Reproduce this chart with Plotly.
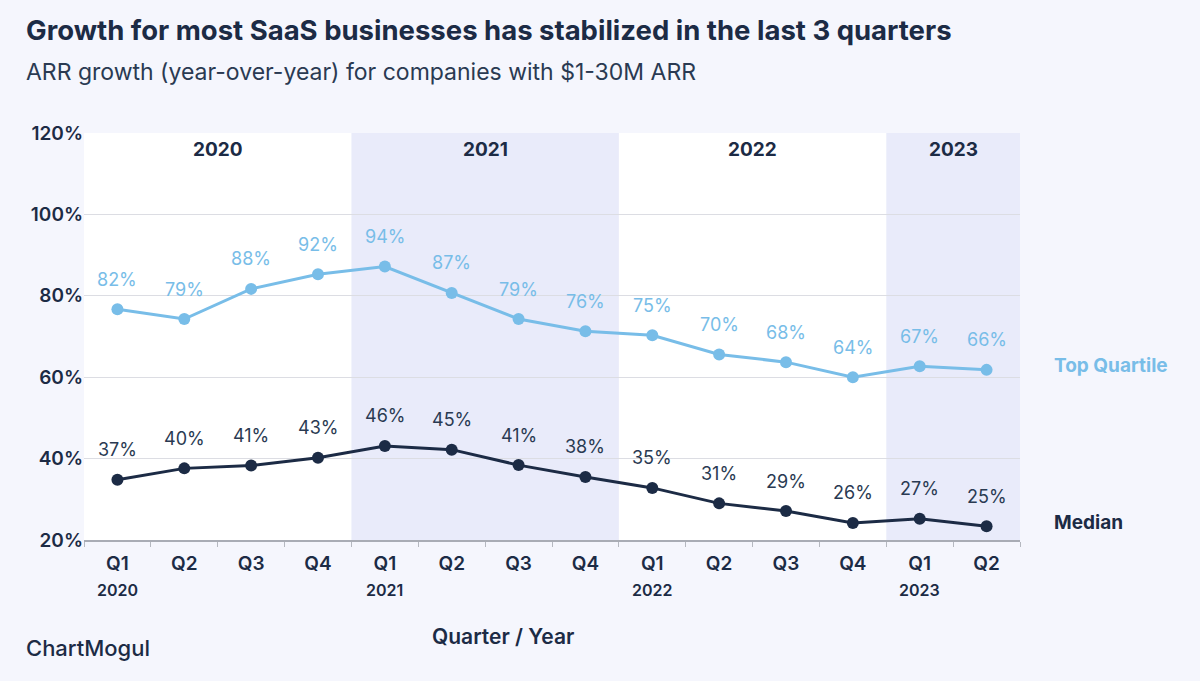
import plotly.graph_objects as go

# ---- data ----
quarters = ["Q1", "Q2", "Q3", "Q4", "Q1", "Q2", "Q3", "Q4", "Q1", "Q2", "Q3", "Q4", "Q1", "Q2"]
years = ["2020", "", "", "", "2021", "", "", "", "2022", "", "", "", "2023", ""]
categories = [f"{q} {2020 + i // 4}" for i, q in enumerate(quarters)]

# plotted positions (as drawn on the axis)
top_quartile = [76.7, 74.3, 81.7, 85.3, 87.2, 80.7, 74.3, 71.3, 70.3, 65.6, 63.7, 60.0, 62.7, 61.8]
median = [34.8, 37.6, 38.3, 40.2, 43.1, 42.2, 38.4, 35.5, 32.8, 29.0, 27.1, 24.2, 25.2, 23.4]
# printed data labels
top_labels = ["82%", "79%", "88%", "92%", "94%", "87%", "79%", "76%", "75%", "70%", "68%", "64%", "67%", "66%"]
median_labels = ["37%", "40%", "41%", "43%", "46%", "45%", "41%", "38%", "35%", "31%", "29%", "26%", "27%", "25%"]

year_bands = [("2020", 0, 3, False), ("2021", 4, 7, True), ("2022", 8, 11, False), ("2023", 12, 13, True)]

# ---- styles ----
FONT = "Inter"
NAVY = "#1c2b45"
LIGHT = "#78bde8"
BG = "#f5f6fd"
BAND = "#e9ebfa"
PLOT_H = 407.0  # plot area height in px (681 - 133 - 141)


def py(px):
    """pixel row (from top of figure) -> paper y"""
    return (540.0 - px) / PLOT_H


def px_x(px):
    return (px - 84) / 936


fig = go.Figure()

fig.add_trace(go.Scatter(
    x=categories, y=top_quartile, mode="lines+markers",
    line=dict(color=LIGHT, width=3), marker=dict(color=LIGHT, size=12),
    hoverinfo="skip", showlegend=False))
fig.add_trace(go.Scatter(
    x=categories, y=median, mode="lines+markers",
    line=dict(color=NAVY, width=3), marker=dict(color=NAVY, size=12),
    hoverinfo="skip", showlegend=False))

annotations = []
for c, v, t in zip(categories, top_quartile, top_labels):
    annotations.append(dict(x=c, y=v, text=t, showarrow=False, yshift=30, yanchor="middle",
                            font=dict(family=FONT, size=18, color=LIGHT)))
for c, v, t in zip(categories, median, median_labels):
    annotations.append(dict(x=c, y=v, text=t, showarrow=False, yshift=30, yanchor="middle",
                            font=dict(family=FONT, size=18, color="#2a3a52")))

shapes = []
for name, i0, i1, shaded in year_bands:
    if shaded:
        shapes.append(dict(type="rect", xref="x", yref="paper", x0=i0 - 0.5, x1=i1 + 0.5,
                           y0=0, y1=1, fillcolor=BAND, line=dict(width=0), layer="below"))
    annotations.append(dict(x=(i0 + i1) / 2, xref="x", y=py(150), yref="paper", text=name,
                            showarrow=False, yanchor="middle",
                            font=dict(family=FONT, size=19, color=NAVY, weight=700)))

for c, y in zip(categories, years):
    if y:
        annotations.append(dict(x=c, xref="x", y=py(590), yref="paper", text=y,
                                showarrow=False, yanchor="middle",
                                font=dict(family=FONT, size=16, color=NAVY, weight=600)))

annotations += [
    dict(xref="paper", yref="paper", x=px_x(1052), y=py(365), xanchor="left", yanchor="middle",
         text="Top Quartile",
         showarrow=False, font=dict(family=FONT, size=19, color=LIGHT, weight=700)),
    dict(xref="paper", yref="paper", x=px_x(1052), y=py(522), xanchor="left", yanchor="middle",
         text="Median",
         showarrow=False, font=dict(family=FONT, size=19, color=NAVY, weight=700)),
    dict(xref="paper", yref="paper", x=px_x(24), y=py(30), xanchor="left", yanchor="middle",
         text="Growth for most SaaS businesses has stabilized in the last 3 quarters",
         showarrow=False, font=dict(family=FONT, size=27.5, color=NAVY, weight=700)),
    dict(xref="paper", yref="paper", x=px_x(24), y=py(72), xanchor="left", yanchor="middle",
         text="ARR growth (year-over-year) for companies with $1-30M ARR",
         showarrow=False, font=dict(family=FONT, size=23, color="#2a3a52")),
    dict(xref="paper", yref="paper", x=px_x(503), y=py(636),
         xanchor="center", yanchor="middle", text="Quarter / Year",
         showarrow=False, font=dict(family=FONT, size=21, color=NAVY, weight=600)),
    dict(xref="paper", yref="paper", x=px_x(24), y=py(648),
         xanchor="left", yanchor="middle", text="ChartMogul",
         showarrow=False, font=dict(family=FONT, size=22, color=NAVY, weight=500)),
]

fig.update_layout(
    width=1200, height=681,
    paper_bgcolor=BG, plot_bgcolor="white",
    margin=dict(l=84, r=180, t=133, b=141),
    font=dict(family=FONT, color=NAVY),
    shapes=shapes, annotations=annotations,
    xaxis=dict(type="category", categoryorder="array", categoryarray=categories,
               tickmode="array", tickvals=categories, ticktext=quarters,
               showgrid=False, showline=True, linecolor="#a9acb5", linewidth=1.5,
               ticks="outside", tickson="boundaries", ticklen=5, tickcolor="#b5b8c0",
               ticklabelstandoff=6,
               tickfont=dict(family=FONT, size=19, color=NAVY, weight=600),
               range=[-0.5, 13.5], fixedrange=True),
    yaxis=dict(range=[20, 120], dtick=20, ticksuffix="%", showgrid=True,
               gridcolor="#dcdde3", gridwidth=1, zeroline=False, showline=False,
               tickfont=dict(family=FONT, size=19, color=NAVY, weight=600),
               fixedrange=True),
)

fig.write_html("out.html",
               config={"displayModeBar": False, "staticPlot": True},
               post_script="document.body.style.margin='0px';document.body.style.background='%s';" % BG)
